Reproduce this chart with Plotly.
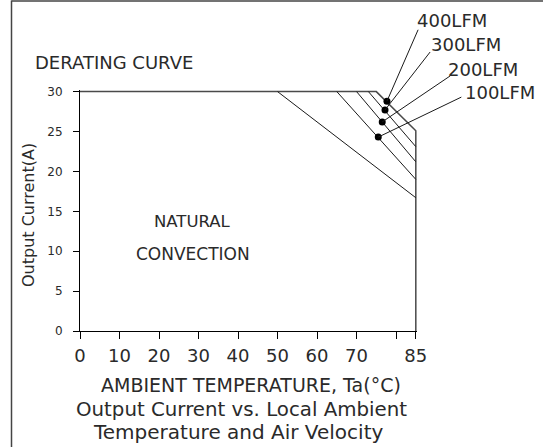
import plotly.graph_objects as go

# ---- data ----
max_current = 30
max_temp = 85
nc_temp = [50, 85]          # natural convection derating line
nc_current = [30, 16.7]
lfm_labels = ["100LFM", "200LFM", "300LFM", "400LFM"]
lfm_start_temp = [65, 70, 73, 75]
lfm_end_current = [19.0, 21.2, 23.1, 25.1]
dot_temp = [75.5, 76.5, 77.2, 77.7]
dot_current = [24.3, 26.2, 27.7, 28.8]
# leader-line tail ends (data units, outside the plotted range)
tail_temp = [96.9, 94.1, 89.0, 85.8]
tail_current = [29.4, 32.1, 35.2, 38.0]
x_ticks = [0, 10, 20, 30, 40, 50, 60, 70, 80, 85]
x_ticktext = ["0", "10", "20", "30", "40", "50", "60", "70", "", "85"]
y_ticks = [0, 5, 10, 15, 20, 25, 30]

# ---- layout geometry ----
WIDTH, HEIGHT = 543, 447
L, T, W, H = 80, 90, 337, 241
R = WIDTH - L - W
B = HEIGHT - T - H


def px(xp):
    return (xp - L) / W


def py(yp):
    return (T + H - yp) / H


FONT = "DejaVu Sans"
TXT = "#2a2a2a"
LINE = "#1a1a1a"

fig = go.Figure()

# outer boundary: max current line + 400LFM derating + 85C limit
fig.add_trace(go.Scatter(
    x=[0, lfm_start_temp[3], max_temp, max_temp],
    y=[max_current, max_current, lfm_end_current[3], 0],
    mode="lines", line=dict(color="#4a4a4a", width=1.5),
    hoverinfo="skip", showlegend=False))

# natural convection
fig.add_trace(go.Scatter(x=nc_temp, y=nc_current, mode="lines",
                         line=dict(color=LINE, width=1), showlegend=False))

# 100/200/300 LFM lines
for i in range(3):
    fig.add_trace(go.Scatter(
        x=[lfm_start_temp[i], max_temp],
        y=[max_current, lfm_end_current[i]],
        mode="lines", line=dict(color=LINE, width=1), showlegend=False))

# dots
fig.add_trace(go.Scatter(x=dot_temp, y=dot_current, mode="markers",
                         marker=dict(color="black", size=7),
                         cliponaxis=False, showlegend=False))

annotations = []
# leader lines
for i in range(4):
    annotations.append(dict(
        x=dot_temp[i], y=dot_current[i], xref="x", yref="y",
        ax=tail_temp[i], ay=tail_current[i], axref="x", ayref="y",
        text=" ", font=dict(size=1), showarrow=True, arrowhead=0,
        arrowwidth=1, arrowcolor=LINE, standoff=0, startstandoff=0))

# LFM labels (pixel positions: left x, centre y)
label_pos = {"400LFM": (415, 21), "300LFM": (429, 44),
             "200LFM": (446, 69), "100LFM": (463, 92)}
for lab in lfm_labels:
    xp, yp = label_pos[lab]
    annotations.append(dict(x=px(xp), y=py(yp), xref="paper", yref="paper",
                            text=lab, showarrow=False, xanchor="left",
                            yanchor="middle",
                            font=dict(family=FONT, size=18, color=TXT)))

texts = [
    ("DERATING CURVE", 33, 63, "left", 18),
    ("AMBIENT TEMPERATURE, Ta(°C)", 251, 385, "center", 19),
    ("Output Current vs. Local Ambient", 241, 409, "center", 19.8),
    ("Temperature and Air Velocity", 238, 432, "center", 20),
]
for t, xp, yp, anc, sz in texts:
    annotations.append(dict(x=px(xp), y=py(yp), xref="paper", yref="paper",
                            text=t, showarrow=False, xanchor=anc,
                            yanchor="middle",
                            font=dict(family=FONT, size=sz, color=TXT)))

# NATURAL CONVECTION (in data units)
annotations.append(dict(x=28.5, y=13.7, xref="x", yref="y", text="NATURAL",
                        showarrow=False, font=dict(family=FONT, size=16.5, color=TXT)))
annotations.append(dict(x=28.5, y=9.6, xref="x", yref="y", text="CONVECTION",
                        showarrow=False, font=dict(family=FONT, size=17, color=TXT)))

# y axis title
annotations.append(dict(x=px(28), y=py(215), xref="paper", yref="paper",
                        xanchor="center", yanchor="middle",
                        text="Output Current(A)", textangle=-90, showarrow=False,
                        font=dict(family=FONT, size=16, color=TXT)))

shapes = [
    dict(type="line", xref="paper", yref="paper", x0=px(11.5), x1=px(11.5),
         y0=py(0.5), y1=py(HEIGHT), line=dict(color="#444", width=1.5)),
    dict(type="line", xref="paper", yref="paper", x0=px(11.5), x1=px(WIDTH),
         y0=py(1), y1=py(1), line=dict(color="#444", width=1.5)),
]

fig.update_layout(
    width=WIDTH, height=HEIGHT,
    margin=dict(l=L, r=R, t=T, b=B, pad=0),
    paper_bgcolor="white", plot_bgcolor="white",
    annotations=annotations, shapes=shapes,
    xaxis=dict(range=[0, 85.3], tickvals=x_ticks, ticktext=x_ticktext,
               showgrid=False, zeroline=False, showline=True,
               linecolor="black", linewidth=1, ticks="outside", ticklen=7,
               tickcolor="black", tickwidth=1, ticklabelstandoff=1,
               tickfont=dict(family=FONT, size=18, color=TXT)),
    yaxis=dict(range=[0, 30.2], tickvals=y_ticks, showgrid=False,
               zeroline=False, showline=True, linecolor="black", linewidth=1,
               ticks="outside", ticklen=6, tickcolor="black", tickwidth=1,
               ticklabelstandoff=8,
               tickfont=dict(family=FONT, size=12, color=TXT)),
)

fig.write_html("out.html",
               config={"displayModeBar": False},
               post_script="document.body.style.margin='0';"
                           "document.body.style.overflow='hidden';")
